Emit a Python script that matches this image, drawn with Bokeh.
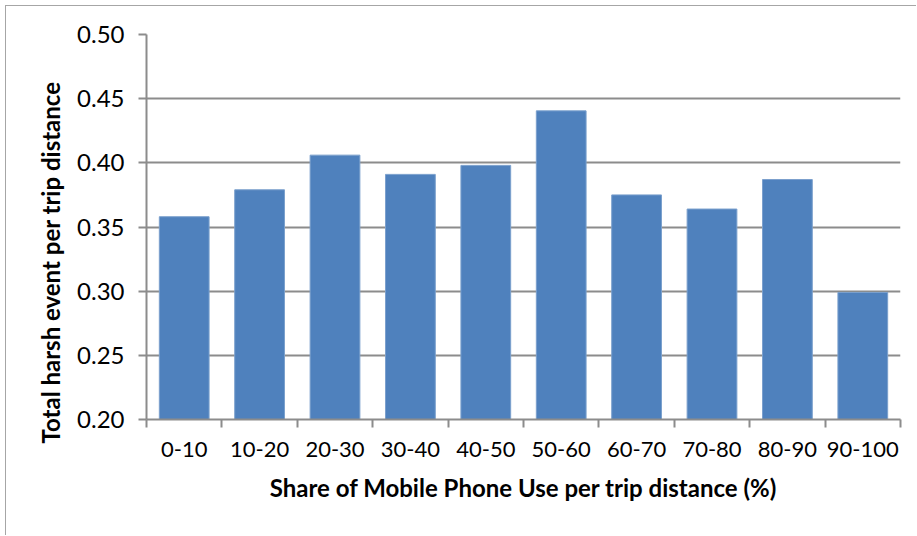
import numpy as np
from bokeh.plotting import figure
from bokeh.models import FixedTicker, Range1d, ColumnDataSource, CustomJSTickFormatter, Title
from bokeh.embed import file_html
from bokeh.resources import INLINE

categories = ["0-10", "10-20", "20-30", "30-40", "40-50", "50-60", "60-70", "70-80", "80-90", "90-100"]
values = [0.358, 0.379, 0.406, 0.391, 0.398, 0.4405, 0.375, 0.364, 0.387, 0.299]
y_ticks = [0.20, 0.25, 0.30, 0.35, 0.40, 0.45, 0.50]
x_title = "Share of Mobile Phone Use per trip distance (%)"
y_title = "Total harsh event per trip distance"

FONT = "Lato"
GRID = "#8c8c8c"

x_pos = np.arange(len(categories)) + 0.5
source = ColumnDataSource(dict(x=x_pos, top=values, cat=categories))

p = figure(width=911, height=530, output_backend="svg", toolbar_location=None,
           x_range=Range1d(0, len(categories)), y_range=Range1d(0.20, 0.50),
           min_border_left=140, min_border_right=17, min_border_top=28, min_border_bottom=117)
p.styles = {"border-left": "1px solid #a6a6a6", "border-top": "1px solid #a6a6a6",
            "margin-left": "5px", "margin-top": "5px"}
p.outline_line_color = None
p.background_fill_color = "white"
p.border_fill_color = "white"

p.vbar(x="x", top="top", bottom=0.20, width=0.66, source=source,
       fill_color="#4F81BD", line_color="#7BA0CD", line_width=1)

# x axis
p.xaxis.ticker = FixedTicker(ticks=list(x_pos), minor_ticks=list(range(len(categories) + 1)))
p.xaxis.major_label_overrides = {float(x): c for x, c in zip(x_pos, categories)}
p.xaxis.major_tick_line_color = None
p.xaxis.minor_tick_line_color = GRID
p.xaxis.minor_tick_line_width = 2
p.xaxis.minor_tick_in = 0
p.xaxis.minor_tick_out = 8
p.xaxis.axis_line_color = GRID
p.xaxis.axis_line_width = 2
p.xaxis.major_label_text_font = FONT
p.xaxis.major_label_text_font_size = "22px"
p.xaxis.major_label_text_color = "black"
p.xaxis.major_label_standoff = 14
p.xaxis.axis_label = x_title
p.xaxis.axis_label_text_font = FONT
p.xaxis.axis_label_text_font_style = "bold"
p.xaxis.axis_label_text_font_size = "24px"
p.xaxis.axis_label_text_color = "black"
p.xaxis.axis_label_standoff = 13
p.xgrid.grid_line_color = None

# y axis
p.yaxis.ticker = FixedTicker(ticks=y_ticks)
p.yaxis.formatter = CustomJSTickFormatter(code="return tick.toFixed(2);")
p.yaxis.major_tick_line_color = GRID
p.yaxis.major_tick_line_width = 2
p.yaxis.major_tick_in = 0
p.yaxis.major_tick_out = 8
p.yaxis.minor_tick_line_color = None
p.yaxis.axis_line_color = GRID
p.yaxis.axis_line_width = 2
p.yaxis.major_label_text_font = FONT
p.yaxis.major_label_text_font_size = "24px"
p.yaxis.major_label_text_color = "black"
p.yaxis.major_label_standoff = 14
p.ygrid.ticker = FixedTicker(ticks=y_ticks)
p.ygrid.grid_line_color = GRID
p.ygrid.grid_line_width = 2

# y-axis title, starting a little below the frame bottom as in the original
p.add_layout(Title(text=y_title, align="left", offset=-24, standoff=19,
                   text_font=FONT, text_font_style="bold", text_font_size="24px",
                   text_color="black"), "left")

open("out.html", "w").write(file_html(p, INLINE))
